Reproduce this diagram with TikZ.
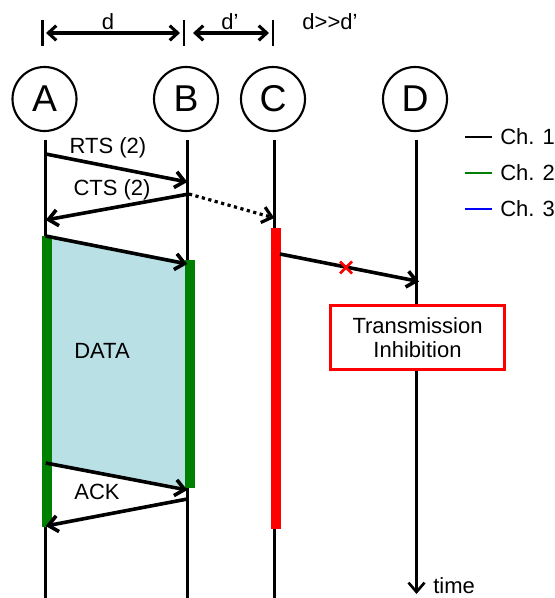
\documentclass[tikz,border=0pt]{standalone}
\usepackage{fontspec}
\setmainfont{Liberation Sans}
\usetikzlibrary{arrows.meta,calc}
\definecolor{chgreen}{RGB}{0,128,0}
\definecolor{chred}{RGB}{255,0,0}
\definecolor{chblue}{RGB}{0,0,255}
\definecolor{datafill}{RGB}{185,224,228}
\begin{document}
\begin{tikzpicture}[x=0.75pt,y=-0.75pt,
  txt/.style={font=\fontsize{16.5}{19}\selectfont, inner sep=0pt},
  ent/.style={circle, draw, line width=1.6pt, minimum size=48pt, inner sep=0pt, font=\fontsize{28}{30}\selectfont},
  life/.style={line width=2pt},
  msg/.style={line width=2.7pt, -{Straight Barb[length=7pt,width=12pt]}},
  dim/.style={line width=2.3pt, {Straight Barb[length=6pt,width=11pt]}-{Straight Barb[length=6pt,width=11pt]}},
  dimbar/.style={line width=2.2pt},
  chbar/.style={line width=7.5pt},
  legline/.style={line width=1.8pt}]
\useasboundingbox (0,0) rectangle (555,598);

% entities
\node[ent] (A) at (44.5,99) {A};
\node[ent] (B) at (186,99) {B};
\node[ent] (C) at (273,99) {C};
\node[ent] (D) at (415,99) {D};

% lifeline coordinates
\coordinate (At) at (45.7,140);
\coordinate (Ab) at (45.7,598);
\coordinate (Bt) at (187.3,140);
\coordinate (Bb) at (187.3,598);
\coordinate (Ct) at (274.3,140);
\coordinate (Cb) at (274.3,598);
\coordinate (Dt) at (416.5,140);
\coordinate (Db) at (416.5,594);

% data area fill
\coordinate (f1) at (47,236);
\coordinate (f2) at (190,262);
\coordinate (f3) at (190,488);
\coordinate (f4) at (47,463);
\fill[datafill] (f1) -- (f2) -- (f3) -- (f4) -- cycle;

% lifelines
\draw[life] (At) -- (Ab);
\draw[life] (Bt) -- (Bb);
\draw[life] (Ct) -- (Cb);
\draw[life, -{Straight Barb[length=7pt,width=12pt]}] (Dt) -- (Db);
\node[txt, anchor=west] (time) at (433,586) {time};

% channel bars
\coordinate (ga1) at (47,236);
\coordinate (ga2) at (47,527);
\coordinate (gb1) at (190,260);
\coordinate (gb2) at (190,488);
\coordinate (rc1) at (275.5,228);
\coordinate (rc2) at (275.5,529);
\draw[chbar, chgreen] (ga1) -- (ga2);
\draw[chbar, chgreen] (gb1) -- (gb2);
\draw[chbar, chred] (rc1) -- (rc2);

% dimension arrows
\coordinate (da1) at (42.7,20);
\coordinate (da2) at (42.7,46);
\coordinate (db1) at (184,20);
\coordinate (db2) at (184,46);
\coordinate (dc1) at (273,20);
\coordinate (dc2) at (273,46);
\draw[dimbar] (da1) -- (da2);
\draw[dimbar] (db1) -- (db2);
\draw[dimbar] (dc1) -- (dc2);
\coordinate (d1s) at (46,33);
\coordinate (d1e) at (180,33);
\coordinate (d2s) at (193,33);
\coordinate (d2e) at (269,33);
\draw[dim] (d1s) -- (d1e);
\draw[dim] (d2s) -- (d2e);
\node[txt] (dl) at (108,22) {d};
\node[txt] (dpl) at (230,22) {d’};
\node[txt] (cmp) at (330,22) {d>{}>d’};

% messages
\coordinate (rts1) at (45.7,154);
\coordinate (rts2) at (187.3,182);
\draw[msg] (rts1) -- (rts2);
\node[txt] (rtsl) at (108,148) {RTS (2)};

\coordinate (cts1) at (189,194);
\coordinate (cts2) at (45.7,220);
\draw[msg] (cts1) -- (cts2);
\node[txt] (ctsl) at (112,190) {CTS (2)};

\coordinate (ctc) at (274.3,218);
\draw[line width=2.4pt, dash pattern=on 2.4pt off 2.6pt, -{Straight Barb[length=7pt,width=12pt]}] (cts1) -- (ctc);

\coordinate (data1) at (45.7,236);
\coordinate (data2) at (187.3,264);
\draw[msg] (data1) -- (data2);
\node[txt] (datal) at (102,351) {DATA};

\coordinate (ack1) at (45.7,463);
\coordinate (ack2) at (187.3,490);
\draw[msg] (ack1) -- (ack2);
\node[txt] (ackl) at (97,492) {ACK};

\coordinate (back1) at (187.3,499);
\coordinate (back2) at (45.7,526);
\draw[msg] (back1) -- (back2);

\coordinate (cd1) at (280,254);
\coordinate (cd2) at (419,281.5);
\draw[msg] (cd1) -- (cd2);
\coordinate (xm) at (346,267.5);
\draw[chred, line width=2pt] ($(xm)+(-6,-6)$) -- ($(xm)+(6,6)$);
\draw[chred, line width=2pt] ($(xm)+(-6,6)$) -- ($(xm)+(6,-6)$);

% inhibition box
\node[draw=chred, fill=white, line width=2.2pt, minimum width=131pt, minimum height=48.5pt, align=center, font=\fontsize{16.5}{18}\selectfont, inner sep=0pt] (inh) at (417.5,337.5) {Transmission\\Inhibition};

% legend
\coordinate (l1a) at (465,137); \coordinate (l1b) at (492,137);
\coordinate (l2a) at (465,173); \coordinate (l2b) at (492,173);
\coordinate (l3a) at (465,209); \coordinate (l3b) at (492,209);
\draw[legline, black] (l1a) -- (l1b);
\draw[legline, chgreen] (l2a) -- (l2b);
\draw[legline, chblue] (l3a) -- (l3b);
\node[txt, anchor=west] (ch1) at (500,137) {Ch. 1};
\node[txt, anchor=west] (ch2) at (500,173) {Ch. 2};
\node[txt, anchor=west] (ch3) at (500,209) {Ch. 3};
\end{tikzpicture}
\end{document}
